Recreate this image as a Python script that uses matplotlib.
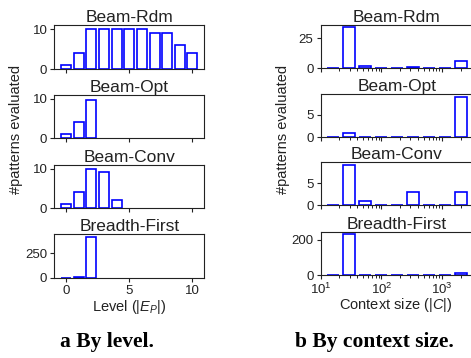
import numpy as np
import matplotlib
matplotlib.use('Agg')
from matplotlib import pyplot as plt
from matplotlib.ticker import LogLocator, NullFormatter

plt.rcParams['font.family'] = ['Liberation Sans', 'DejaVu Sans']
plt.rcParams['mathtext.fontset'] = 'custom'
plt.rcParams['mathtext.it'] = 'Liberation Sans:italic'
plt.rcParams['mathtext.rm'] = 'Liberation Sans'

strategies = ['Beam-Rdm', 'Beam-Opt', 'Beam-Conv', 'Breadth-First']

# panel a: patterns evaluated per level |E_P| (only levels reached)
by_level = {
    'Beam-Rdm': [1, 4, 10, 10, 10, 10, 10, 9, 9, 6, 4],
    'Beam-Opt': [1, 4, 9.6],
    'Beam-Conv': [1, 4, 10, 9.2, 2],
    'Breadth-First': [1, 4, 415],
}
level_ylim = [11, 11, 11, 446]
level_yticks = [[0, 10], [0, 10], [0, 10], [0, 250]]

# panel b: patterns evaluated per context size |C| (log bins)
ctx_edges = np.logspace(np.log10(11.7), np.log10(2660), 10)
by_context = {
    'Beam-Rdm': [0, 34, 2, 0, 0, 1, 0, 0, 6],
    'Beam-Opt': [0, 1, 0, 0, 0, 0, 0, 0, 9],
    'Beam-Conv': [0, 9, 1, 0, 0, 3, 0, 0, 3],
    'Breadth-First': [0, 235, 0, 0, 0, 0, 0, 0, 12],
}
ctx_ylim = [36, 9.7, 9.8, 247]
ctx_yticks = [[0, 25], [0, 5], [0, 5], [0, 200]]

W, H = 471, 358
fig = plt.figure(figsize=(W / 100, H / 100), dpi=100)

txt = '#222222'
left_bottoms = [69, 138.3, 208.3, 277.7]
right_bottoms = [68.3, 137.3, 205.3, 275.3]
ah = 43.6


def style(ax, name, yticks, show_x):
    ax.set_title(name, fontsize=12.5, pad=1.5, color=txt)
    ax.set_yticks(yticks)
    ax.tick_params(labelsize=9.5, colors=txt, length=3, width=0.8, pad=2)
    ax.tick_params(which='minor', length=1.8, width=0.6)
    if not show_x:
        ax.tick_params(axis='x', which='both', labelbottom=False)
    for s in ax.spines.values():
        s.set_linewidth(0.8)
        s.set_color('#222222')


for i, name in enumerate(strategies):
    ax = fig.add_axes([54.3 / W, 1 - left_bottoms[i] / H, 150 / W, ah / H])
    vals = by_level[name]
    ax.bar(range(len(vals)), vals, width=0.8, facecolor='white',
           edgecolor='blue', linewidth=1.2)
    ax.set_xlim(-0.94, 10.94)
    ax.set_ylim(0, level_ylim[i])
    ax.set_xticks([0, 5, 10])
    style(ax, name, level_yticks[i], i == 3)

    ax2 = fig.add_axes([320.5 / W, 1 - right_bottoms[i] / H, 153 / W, ah / H])
    centers = np.sqrt(ctx_edges[:-1] * ctx_edges[1:])
    ax2.hist(centers, bins=ctx_edges, weights=by_context[name], rwidth=0.75,
             facecolor='white', edgecolor='blue', linewidth=1.2)
    ax2.set_xscale('log')
    ax2.set_ylim(0, ctx_ylim[i])
    ax2.xaxis.set_major_locator(LogLocator(base=10))
    ax2.xaxis.set_minor_locator(LogLocator(base=10, subs=np.arange(2, 10)))
    ax2.xaxis.set_minor_formatter(NullFormatter())
    style(ax2, name, ctx_yticks[i], i == 3)

fig.text(16 / W, 1 - 129 / H, '#patterns evaluated', rotation=90,
         ha='center', va='center', fontsize=10.5, color=txt)
fig.text(283 / W, 1 - 129 / H, '#patterns evaluated', rotation=90,
         ha='center', va='center', fontsize=10.5, color=txt)
fig.text(129.5 / W, 1 - 307 / H, r'Level ($\mathit{|E_P|}$)',
         ha='center', va='center', fontsize=10.5, color=txt)
fig.text(396 / W, 1 - 305 / H, r'Context size ($\mathit{|C|}$)',
         ha='center', va='center', fontsize=10.5, color=txt)

fig.text(107 / W, 1 - 341.5 / H, 'a By level.', ha='center', va='center',
         fontsize=15.5, fontweight='bold', family='Liberation Serif')
fig.text(374 / W, 1 - 341.5 / H, 'b By context size.', ha='center', va='center',
         fontsize=15.5, fontweight='bold', family='Liberation Serif')

fig.savefig('out.png', dpi=100)
